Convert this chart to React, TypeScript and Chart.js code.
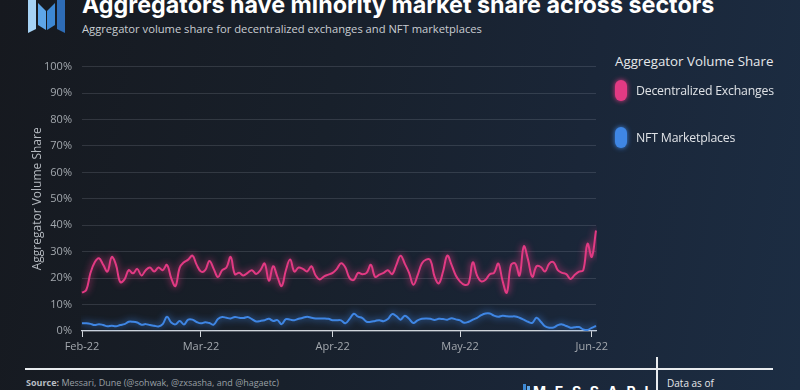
import React, { useEffect, useRef } from "react";
import { Chart, registerables } from "chart.js";

Chart.register(...registerables);

// ---- Data (daily, starting 2022-02-01) ----
const START_YEAR = 2022;
const START_MONTH = 1; // February (0-based)
const START_DAY = 1;
const monthNames = ["Jan", "Feb", "Mar", "Apr", "May", "Jun", "Jul", "Aug", "Sep", "Oct", "Nov", "Dec"];

const dexShare = [
  14.5, 15.5, 22, 26, 27.5, 25, 22.5, 28, 25, 18.5,
  19.5, 23, 21.8, 23.5, 21, 23, 24, 22.5, 24, 23,
  25, 20, 17, 24, 26, 27, 28.5, 25, 22.5, 23,
  26.5, 23.5, 20.4, 23, 24, 28, 21.5, 22, 21, 22,
  23, 21.6, 23, 25.5, 19, 24.5, 20.5, 17, 23, 27,
  22.5, 24, 23.5, 22.5, 24.5, 21, 19.5, 20.7, 21.3, 22,
  23.5, 25.6, 24, 20, 19.3, 22, 21.5, 22, 25, 20.5,
  21.3, 22, 23, 21.5, 25, 28.5, 25.4, 22, 17.5, 21,
  25.5, 27, 26.8, 20.6, 18, 22.5, 28.5, 25, 21, 18.7,
  17.5, 18, 26, 21, 18.75, 19.4, 21.5, 22, 25.5, 19,
  14.5, 25, 25.5, 21, 32, 27, 20.5, 24.5, 24.2, 22.5,
  25.5, 26, 23, 22, 21.5, 19.7, 21.25, 22.5, 23, 33,
  28, 38,
];

const nftShare = [
  2.9, 2.9, 2.7, 2.25, 2.6, 2.25, 1.8, 2.0, 1.8, 2.25,
  2.6, 3.5, 3.5, 3.2, 2.4, 2.6, 2.25, 2.0, 1.7, 2.6,
  5.4, 3.2, 2.5, 3.8, 2.5, 4.3, 4.3, 3.4, 2.9, 3.3,
  3.0, 2.4, 4.5, 5.3, 5.0, 4.75, 5.3, 5.0, 4.9, 5.3,
  4.5, 3.6, 3.8, 4.1, 4.6, 3.8, 4.1, 2.6, 4.5, 4.3,
  4.1, 4.6, 5.0, 5.4, 5.0, 4.75, 4.75, 4.75, 4.6, 4.1,
  4.1, 4.0, 2.9, 4.6, 6.5, 5.4, 4.9, 3.5, 3.5, 3.8,
  4.1, 3.7, 4.5, 6.4, 5.6, 4.3, 5.8, 4.6, 3.0, 4.0,
  4.6, 4.75, 4.6, 4.2, 4.6, 4.5, 4.3, 4.8, 4.4, 4.0,
  3.1, 3.5, 4.3, 5.0, 6.0, 6.6, 6.6, 5.8, 5.4, 5.8,
  5.6, 5.5, 5.5, 5.0, 4.3, 3.5, 3.1, 5.0, 3.5, 1.8,
  1.25, 1.3, 2.2, 2.5, 1.9, 1.25, 1.4, 1.5, 0.6, 0.4,
  1.2, 1.9,
];

const seriesNames = ["Decentralized Exchanges", "NFT Marketplaces"];
const seriesColors = ["#e23a83", "#3f86e4"];

const dayDates = dexShare.map((_, i) => new Date(Date.UTC(START_YEAR, START_MONTH, START_DAY + i)));
const dayLabels = dayDates.map((d) => d.toISOString().slice(0, 10));
const isMonthStart = (i: number) => !!dayDates[i] && dayDates[i].getUTCDate() === 1;
const monthTickLabel = (i: number) =>
  `${monthNames[dayDates[i].getUTCMonth()]}-${String(dayDates[i].getUTCFullYear()).slice(2)}`;

const glowPlugin = {
  id: "glow",
  beforeDatasetDraw(chart: any, args: any) {
    const ctx = chart.ctx;
    ctx.save();
    const ds = chart.data.datasets[args.index];
    ctx.shadowColor = ds.borderColor;
    ctx.shadowBlur = 7;
  },
  afterDatasetDraw(chart: any) {
    chart.ctx.restore();
  },
};

function LineChart() {
  const ref = useRef<HTMLCanvasElement | null>(null);
  useEffect(() => {
    if (!ref.current) return;
    const chart = new Chart(ref.current, {
      type: "line",
      data: {
        labels: dayLabels,
        datasets: [
          {
            label: seriesNames[0],
            data: dexShare,
            borderColor: seriesColors[0],
            borderWidth: 2,
            pointRadius: 0,
            tension: 0.4,
            fill: false,
          },
          {
            label: seriesNames[1],
            data: nftShare,
            borderColor: seriesColors[1],
            borderWidth: 2,
            pointRadius: 0,
            tension: 0.4,
            fill: false,
          },
        ],
      },
      options: {
        responsive: false,
        animation: false,
        devicePixelRatio: 1,
        layout: { padding: { left: 0, right: 16, top: 16, bottom: 0 } },
        plugins: { legend: { display: false }, tooltip: { enabled: false } },
        scales: {
          x: {
            type: "category",
            offset: false,
            afterFit: (s: any) => {
              s.height = 29;
            },
            grid: {
              display: true,
              drawOnChartArea: false,
              drawTicks: true,
              tickLength: 6,
              color: (c: any) => (isMonthStart(c.index) ? "#d5d9de" : "rgba(0,0,0,0)"),
            },
            border: { display: true, color: "#cfd4da", width: 1.2 },
            ticks: {
              autoSkip: false,
              maxRotation: 0,
              minRotation: 0,
              padding: 3,
              color: "#a3a8ae",
              font: { family: "Open Sans", size: 11 },
              callback: (_v: any, i: number) => (isMonthStart(i) ? monthTickLabel(i) : ""),
            },
          },
          y: {
            min: 0,
            max: 100,
            afterFit: (s: any) => {
              s.width = 82;
            },
            grid: { color: "rgba(190,200,210,0.16)", drawTicks: false, lineWidth: 1 },
            border: { display: false },
            ticks: {
              stepSize: 10,
              padding: 10,
              color: "#a3a8ae",
              font: { family: "Open Sans", size: 11 },
              callback: (v: any) => `${v}%`,
            },
            title: {
              display: true,
              text: "Aggregator Volume Share",
              color: "#b5bac0",
              font: { family: "Open Sans", size: 12 },
              padding: { top: 30, bottom: 0 },
            },
          },
        },
      },
      plugins: [glowPlugin],
    });
    return () => chart.destroy();
  }, []);
  return (
    <canvas
      ref={ref}
      width={612}
      height={310}
      style={{ position: "absolute", left: 0, top: 50, width: 612, height: 310 }}
    />
  );
}

export default function App() {
  useEffect(() => {
    document.body.style.margin = "0";
  }, []);
  const font = "'Open Sans', 'Noto Sans', sans-serif";
  return (
    <div
      style={{
        position: "fixed",
        left: 0,
        top: 0,
        width: 800,
        height: 390,
        overflow: "hidden",
        background: "linear-gradient(100deg, #16191f 0%, #18202b 40%, #1a2638 70%, #1c2d43 100%)",
        fontFamily: font,
      }}
    >
      {/* Logo */}
      <svg width={800} height={40} style={{ position: "absolute", left: 0, top: 0 }}>
        <polygon points="28,0 36,0 36,29 28,33" fill="#a6d2f4" />
        <polygon points="38,3 46,11 46,30 38,25" fill="#5ea6e8" />
        <polygon points="47,11 55,3 55,25 47,30" fill="#3d88d4" />
        <polygon points="57,0 65,0 65,33 57,29" fill="#2e6cb6" />
      </svg>
      <div
        style={{
          position: "absolute",
          left: 82,
          top: -9,
          fontFamily: "Inter, sans-serif",
          fontWeight: 700,
          fontSize: 23.3,
          lineHeight: "28px",
          color: "#ffffff",
          whiteSpace: "nowrap",
        }}
      >
        Aggregators have minority market share across sectors
      </div>
      <div
        style={{
          position: "absolute",
          left: 82,
          top: 20,
          fontSize: 11.2,
          lineHeight: "18px",
          color: "#c9cdd2",
          whiteSpace: "nowrap",
        }}
      >
        Aggregator volume share for decentralized exchanges and NFT marketplaces
      </div>

      <LineChart />

      {/* Legend */}
      <div style={{ position: "absolute", left: 615, top: 52, fontSize: 13.3, color: "#e6e8eb", whiteSpace: "nowrap" }}>
        Aggregator Volume Share
      </div>
      {seriesNames.map((name, i) => (
        <div key={name} style={{ position: "absolute", left: 615, top: 79 + i * 47, height: 22, display: "flex", alignItems: "center" }}>
          <div
            style={{
              width: 12,
              height: 21,
              borderRadius: 6,
              background: seriesColors[i],
              boxShadow: `0 0 5px ${seriesColors[i]}`,
            }}
          />
          <div style={{ marginLeft: 9, fontSize: 12.3, color: "#dfe2e6", whiteSpace: "nowrap", letterSpacing: -0.2 }}>{name}</div>
        </div>
      ))}

      {/* Footer */}
      <div style={{ position: "absolute", left: 25, top: 368, width: 748, height: 2, background: "#e9ecef" }} />
      <div style={{ position: "absolute", left: 656, top: 357, width: 1.5, height: 40, background: "#e9ecef" }} />
      <div style={{ position: "absolute", left: 26, top: 376, fontSize: 9, lineHeight: "13px", color: "#9aa0a6", whiteSpace: "nowrap" }}>
        <b style={{ color: "#b9bec4" }}>Source:</b> Messari, Dune (@sohwak, @zxsasha, and @hagaetc)
      </div>
      <div style={{ position: "absolute", left: 667, top: 376, fontSize: 10, lineHeight: "14px", color: "#e6e8eb", whiteSpace: "nowrap" }}>
        Data as of
      </div>
      <svg width={10} height={10} style={{ position: "absolute", left: 523, top: 384 }}>
        <polygon points="0,0 3,0 3,10 0,10" fill="#3d88d4" />
        <polygon points="4,2 7,2 7,10 4,10" fill="#5ea6e8" />
      </svg>
      <div
        style={{
          position: "absolute",
          left: 533,
          top: 384,
          fontFamily: "Inter, sans-serif",
          fontWeight: 700,
          fontSize: 14,
          lineHeight: "16px",
          letterSpacing: 8.7,
          color: "#ffffff",
          whiteSpace: "nowrap",
        }}
      >
        MESSARI
      </div>
    </div>
  );
}
